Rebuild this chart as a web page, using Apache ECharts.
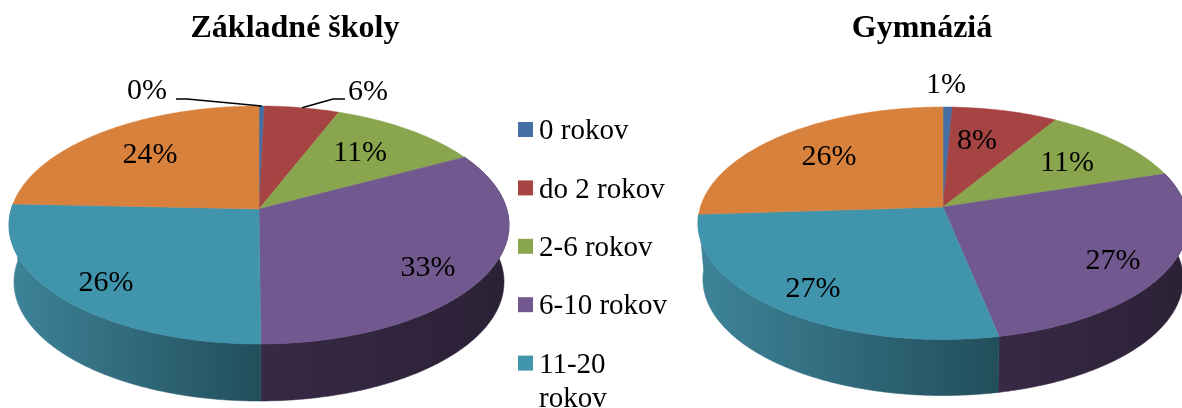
<!DOCTYPE html>
<html>
<head>
<meta charset="utf-8">
<style>
    html,body{margin:0;padding:0;background:#fff;}
    #chart{width:1182px;height:408px;}
</style>
<script src="https://cdn.jsdelivr.net/npm/echarts@6/dist/echarts.min.js"></script>
</head>
<body>
<div id="chart"></div>
<script>
// values, in percent
var categories = ['0 rokov', 'do 2 rokov', '2-6 rokov', '6-10 rokov', '11-20 rokov', 'nad 20 rokov'];
var zakladneValues = [0.4, 5.5, 11.3, 32.7, 25.8, 24.3];
var gymnaziaValues = [0.7, 8.0, 11.4, 26.7, 27.2, 26.0];
var titles = ['Základné školy', 'Gymnáziá'];

var colors = ['#4470a5', '#a64343', '#89a54e', '#71588f', '#4094ac', '#d8813c'];
var wallColors = [
    ['#345a86', '#2a4a70'],
    ['#853434', '#6e2b2b'],
    ['#6e853e', '#5b6e33'],
    ['#382945', '#2b2136'],
    ['#3e8499', '#224e5b'],
    ['#ae6830', '#905628']
];
var font = 'Liberation Serif';

// apex = pie centre on screen, above = apex to back rim, below = apex to front rim
var zakladneGeo = {x: 259, y: 209, rx: 250, above: 103, below: 135, depth: 57};
var gymnaziaGeo = {x: 943, y: 207, rx: 245, above: 100, below: 132.5, depth: 56};

// label centres, one per slice
var zakladneLabels = [[147, 91], [368, 92], [360, 153], [428, 268], [106, 283], [150, 155]];
var gymnaziaLabels = [[946, 85], [977, 141], [1067, 163], [1113, 261], [813, 289], [829, 157]];

// project an angle (clockwise from the back of the disc) onto the tilted disc
function project(geo, deg, scale, dy) {
    var a = deg * Math.PI / 180;
    var p = (geo.below - geo.above) / (geo.below + geo.above);
    var q = geo.below * (1 - p);
    var s = geo.rx * Math.sqrt(1 - p * p) * scale;
    var X = Math.sin(a), Y = -Math.cos(a);
    var w = 1 - p * Y;
    return [geo.x + s * X / w, geo.y + q * Y / w + dy];
}

function arc(geo, from, to, scale, dy) {
    var pts = [];
    var n = Math.max(2, Math.ceil((to - from) * 2));
    for (var i = 0; i <= n; i++) {
        pts.push(project(geo, from + (to - from) * i / n, scale, dy));
    }
    return pts;
}

function makePie(values, geo, labels, leaders) {
    var total = values.reduce(function (a, b) { return a + b; }, 0);
    return {
        type: 'custom',
        coordinateSystem: 'none',
        silent: true,
        animation: false,
        data: values,
        renderItem: function (params, api) {
            var i = params.dataIndex;
            var before = 0;
            for (var k = 0; k < i; k++) before += values[k];
            var from = before / total * 360;
            var to = (before + values[i]) / total * 360;
            var mid = (from + to) / 2;
            var topArc = arc(geo, from, to, 1, 0);
            var children = [{
                type: 'polygon',
                z2: 2,
                shape: {points: [[geo.x, geo.y]].concat(topArc)},
                style: {fill: colors[i], stroke: colors[i], lineWidth: 0.5}
            }, {
                type: 'text',
                z2: 4,
                style: {
                    text: Math.round(values[i]) + '%',
                    x: labels[i][0],
                    y: labels[i][1],
                    align: 'center',
                    verticalAlign: 'middle',
                    fill: '#000',
                    font: '30px "' + font + '"'
                }
            }];
            // only slices on the near half show a wall
            if (mid > 90 && mid < 270) {
                var wallFill = new echarts.graphic.LinearGradient(0, 0, 1, 0, [
                    {offset: 0, color: wallColors[i][0]},
                    {offset: 1, color: wallColors[i][1]}
                ]);
                children.push({
                    type: 'polygon',
                    z2: 1,
                    shape: {points: topArc.concat(arc(geo, from, to, 0.98, geo.depth).reverse())},
                    style: {fill: wallFill, stroke: wallFill, lineWidth: 0.6}
                });
            }
            if (leaders && leaders[i]) {
                children.push({
                    type: 'polyline',
                    z2: 3,
                    shape: {points: leaders[i].concat([project(geo, mid, 1, 0)])},
                    style: {fill: null, stroke: '#000', lineWidth: 1.5}
                });
            }
            return {type: 'group', children: children};
        }
    };
}

// legend stops at 11-20 rokov, the chart frame cuts off the last entry
var legendRows = categories.slice(0, 5);
var legendWrap = {'11-20 rokov': '11-20\nrokov'};
var legendGraphics = [];
legendRows.forEach(function (name, i) {
    var cy = 129.5 + i * 58.4;
    legendGraphics.push({
        type: 'rect',
        shape: {x: 518, y: cy - 7.5, width: 15, height: 15},
        style: {fill: colors[i]}
    });
    legendGraphics.push({
        type: 'text',
        style: {
            text: legendWrap[name] || name,
            x: 539,
            y: cy - 15,
            fill: '#000',
            font: '29px "' + font + '"',
            lineHeight: 34
        }
    });
});

var titleStyle = {fontFamily: font, fontWeight: 'bold', fontSize: 32, color: '#000'};
var myChart = echarts.init(document.getElementById('chart'));
myChart.setOption({
    backgroundColor: '#fff',
    animation: false,
    title: [
        {text: titles[0], left: 290, top: 8, textAlign: 'center', textStyle: titleStyle},
        {text: titles[1], left: 917, top: 8, textAlign: 'center', textStyle: titleStyle}
    ],
    graphic: legendGraphics,
    series: [
        makePie(zakladneValues, zakladneGeo, zakladneLabels, {0: [[176, 99], [187, 99]], 1: [[345, 99], [333, 99]]}),
        makePie(gymnaziaValues, gymnaziaGeo, gymnaziaLabels)
    ]
});
</script>
</body>
</html>
